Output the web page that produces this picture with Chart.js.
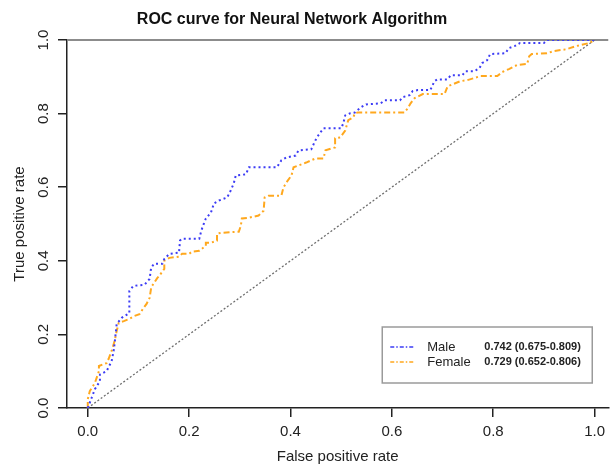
<!DOCTYPE html>
<html>
<head>
<meta charset="utf-8">
<title>ROC curve for Neural Network Algorithm</title>
<script src="https://cdn.jsdelivr.net/npm/chart.js@4.4.1/dist/chart.umd.min.js"></script>
<style>
  html, body { margin: 0; padding: 0; background: #fff; }
  #wrap { width: 611px; height: 466px; position: relative; }
</style>
</head>
<body>
<div id="wrap"><canvas id="rocChart"></canvas></div>
<script>
// DATA
const chartTitle = "ROC curve for Neural Network Algorithm";
const xTicks = [0, 0.2, 0.4, 0.6, 0.8, 1.0];
const yTicks = [0, 0.2, 0.4, 0.6, 0.8, 1.0];
const groups = ["Male", "Female"];
const aucText = ["0.742 (0.675-0.809)", "0.729 (0.652-0.806)"];

const maleFpr = [0, 0.014, 0.024, 0.024, 0.037, 0.047, 0.051, 0.053, 0.057, 0.067, 0.082, 0.082, 0.090, 0.112,
  0.122, 0.125, 0.131, 0.147, 0.151, 0.161, 0.180, 0.182, 0.186, 0.220, 0.224, 0.229, 0.233, 0.243, 0.249,
  0.259, 0.275, 0.282, 0.288, 0.292, 0.312, 0.318, 0.373, 0.382, 0.392, 0.410, 0.416, 0.441, 0.449, 0.455,
  0.465, 0.500, 0.504, 0.508, 0.518, 0.527, 0.539, 0.549, 0.578, 0.586, 0.616, 0.622, 0.635, 0.641, 0.651,
  0.676, 0.684, 0.690, 0.710, 0.716, 0.739, 0.745, 0.763, 0.773, 0.778, 0.788, 0.794, 0.824, 0.831, 0.843,
  0.853, 0.900, 0.906, 1.0];
const maleTpr = [0, 0.051, 0.073, 0.091, 0.100, 0.127, 0.155, 0.176, 0.228, 0.245, 0.258, 0.318, 0.332, 0.335,
  0.351, 0.381, 0.392, 0.392, 0.405, 0.419, 0.422, 0.455, 0.460, 0.460, 0.482, 0.501, 0.515, 0.531, 0.556,
  0.564, 0.572, 0.591, 0.610, 0.632, 0.635, 0.654, 0.654, 0.673, 0.681, 0.686, 0.700, 0.703, 0.727, 0.741,
  0.760, 0.760, 0.773, 0.795, 0.801, 0.803, 0.817, 0.825, 0.828, 0.836, 0.836, 0.845, 0.850, 0.861, 0.864,
  0.864, 0.888, 0.893, 0.893, 0.904, 0.904, 0.915, 0.915, 0.924, 0.937, 0.945, 0.962, 0.964, 0.978, 0.984,
  0.992, 0.992, 1.0, 1.0];

const femaleFpr = [0, 0, 0.004, 0.014, 0.022, 0.022, 0.031, 0.037, 0.041, 0.047, 0.053, 0.057, 0.061, 0.071,
  0.082, 0.092, 0.102, 0.110, 0.116, 0.122, 0.125, 0.127, 0.137, 0.141, 0.151, 0.151, 0.161, 0.180, 0.186,
  0.200, 0.206, 0.220, 0.233, 0.233, 0.243, 0.255, 0.255, 0.263, 0.298, 0.302, 0.304, 0.318, 0.337, 0.347,
  0.349, 0.357, 0.382, 0.386, 0.392, 0.402, 0.406, 0.431, 0.449, 0.465, 0.469, 0.480, 0.488, 0.488, 0.498,
  0.508, 0.514, 0.524, 0.527, 0.533, 0.625, 0.631, 0.637, 0.645, 0.661, 0.704, 0.710, 0.735, 0.749, 0.775,
  0.808, 0.818, 0.831, 0.847, 0.867, 0.871, 0.876, 0.906, 0.920, 0.945, 0.951, 0.965, 0.990, 1.0];
const femaleTpr = [0, 0.024, 0.046, 0.068, 0.100, 0.114, 0.119, 0.122, 0.133, 0.155, 0.182, 0.209, 0.231, 0.236,
  0.242, 0.250, 0.255, 0.272, 0.283, 0.299, 0.326, 0.332, 0.353, 0.359, 0.378, 0.400, 0.408, 0.411, 0.419,
  0.419, 0.425, 0.427, 0.441, 0.449, 0.449, 0.455, 0.474, 0.476, 0.479, 0.495, 0.515, 0.517, 0.523, 0.536,
  0.572, 0.577, 0.577, 0.599, 0.613, 0.632, 0.654, 0.667, 0.678, 0.678, 0.700, 0.705, 0.708, 0.733, 0.735,
  0.754, 0.782, 0.790, 0.801, 0.803, 0.803, 0.814, 0.828, 0.842, 0.853, 0.853, 0.874, 0.888, 0.891, 0.902,
  0.902, 0.913, 0.921, 0.932, 0.935, 0.956, 0.962, 0.964, 0.970, 0.975, 0.978, 0.984, 0.992, 1.0];

const chanceFpr = [0, 1];
const chanceTpr = [0, 1];

const toPoints = (xs, ys) => xs.map((x, i) => ({ x: x, y: ys[i] }));

const fontFamily = "'Liberation Sans', Arial, Helvetica, sans-serif";
Chart.defaults.font.family = fontFamily;
Chart.defaults.color = "#222";

const lineColors = ["#3c3cf5", "#ffa81e"];
const lineDashes = [[2, 3], [6, 3, 2, 3]];

// TITLE, TOP FRAME LINE AND LEGEND BOX
const extras = {
  id: "extras",
  beforeDatasetsDraw(chart) {
    const { ctx, chartArea } = chart;
    ctx.save();
    ctx.strokeStyle = "#8c8c8c";
    ctx.lineWidth = 2;
    ctx.beginPath();
    ctx.moveTo(chartArea.left, chartArea.top);
    ctx.lineTo(chartArea.right, chartArea.top);
    ctx.stroke();
    ctx.restore();
  },
  afterDraw(chart) {
    const { ctx, chartArea } = chart;
    ctx.save();
    ctx.fillStyle = "#111";
    ctx.font = "bold 16px " + fontFamily;
    ctx.textAlign = "center";
    ctx.textBaseline = "middle";
    ctx.fillText(chartTitle, 292, 20);

    // legend
    const boxW = 210, boxH = 56;
    const bx = chartArea.right - 16 - boxW;
    const by = chartArea.bottom - 25 - boxH;
    ctx.fillStyle = "#fff";
    ctx.fillRect(bx, by, boxW, boxH);
    ctx.strokeStyle = "#9a9a9a";
    ctx.lineWidth = 1.5;
    ctx.strokeRect(bx, by, boxW, boxH);

    groups.forEach((name, i) => {
      const ly = by + 20 + i * 15;
      ctx.strokeStyle = lineColors[i];
      ctx.lineWidth = 1.3;
      ctx.setLineDash([4, 2, 1.5, 2]);
      ctx.beginPath();
      ctx.moveTo(bx + 8, ly);
      ctx.lineTo(bx + 33, ly);
      ctx.stroke();
      ctx.setLineDash([]);

      ctx.fillStyle = "#222";
      ctx.textAlign = "left";
      ctx.textBaseline = "middle";
      ctx.font = "13px " + fontFamily;
      ctx.fillText(name, bx + 45, ly);
      ctx.font = "bold 11px " + fontFamily;
      ctx.fillText(aucText[i], bx + 102, ly);
    });
    ctx.restore();
  }
};

new Chart(document.getElementById("rocChart"), {
  type: "scatter",
  data: {
    datasets: [
      {
        label: groups[0],
        data: toPoints(maleFpr, maleTpr),
        showLine: true,
        borderColor: lineColors[0],
        borderWidth: 2,
        borderDash: lineDashes[0],
        pointRadius: 0,
        tension: 0
      },
      {
        label: groups[1],
        data: toPoints(femaleFpr, femaleTpr),
        showLine: true,
        borderColor: lineColors[1],
        borderWidth: 2,
        borderDash: lineDashes[1],
        pointRadius: 0,
        tension: 0
      },
      {
        label: "chance",
        data: toPoints(chanceFpr, chanceTpr),
        showLine: true,
        borderColor: "#6e6e6e",
        borderWidth: 1.3,
        borderDash: [2, 2],
        pointRadius: 0
      }
    ]
  },
  options: {
    responsive: true,
    maintainAspectRatio: false,
    animation: false,
    layout: { padding: { top: 40, right: 0, bottom: 0, left: 0 } },
    plugins: {
      legend: { display: false },
      tooltip: { enabled: false },
      title: { display: false }
    },
    scales: {
      x: {
        type: "linear",
        min: -0.041,
        max: 1.027,
        afterBuildTicks: scale => { scale.ticks = xTicks.map(v => ({ value: v })); },
        afterFit: scale => { scale.height = 58; },
        ticks: {
          padding: 6,
          font: { size: 15 },
          color: "#222",
          callback: v => v.toFixed(1)
        },
        grid: { drawOnChartArea: false, drawTicks: true, tickLength: 9, tickColor: "#222", lineWidth: 1.5 },
        border: { display: true, color: "#222", width: 1.5 },
        title: {
          display: true,
          text: "False positive rate",
          font: { size: 15 },
          color: "#222",
          padding: { top: 0, bottom: 0 }
        }
      },
      y: {
        type: "linear",
        min: 0,
        max: 1,
        afterBuildTicks: scale => { scale.ticks = yTicks.map(v => ({ value: v })); },
        afterFit: scale => { scale.width = 67; },
        ticks: {
          padding: 3.5,
          minRotation: 90,
          maxRotation: 90,
          crossAlign: "center",
          font: { size: 15 },
          color: "#222",
          callback: v => v.toFixed(1)
        },
        grid: { drawOnChartArea: false, drawTicks: true, tickLength: 9, tickColor: "#222", lineWidth: 1.5 },
        border: { display: true, color: "#222", width: 1.5 },
        title: {
          display: true,
          text: "True positive rate",
          font: { size: 15 },
          color: "#222",
          padding: { top: 11, bottom: 0 }
        }
      }
    }
  },
  plugins: [extras]
});
</script>
</body>
</html>
